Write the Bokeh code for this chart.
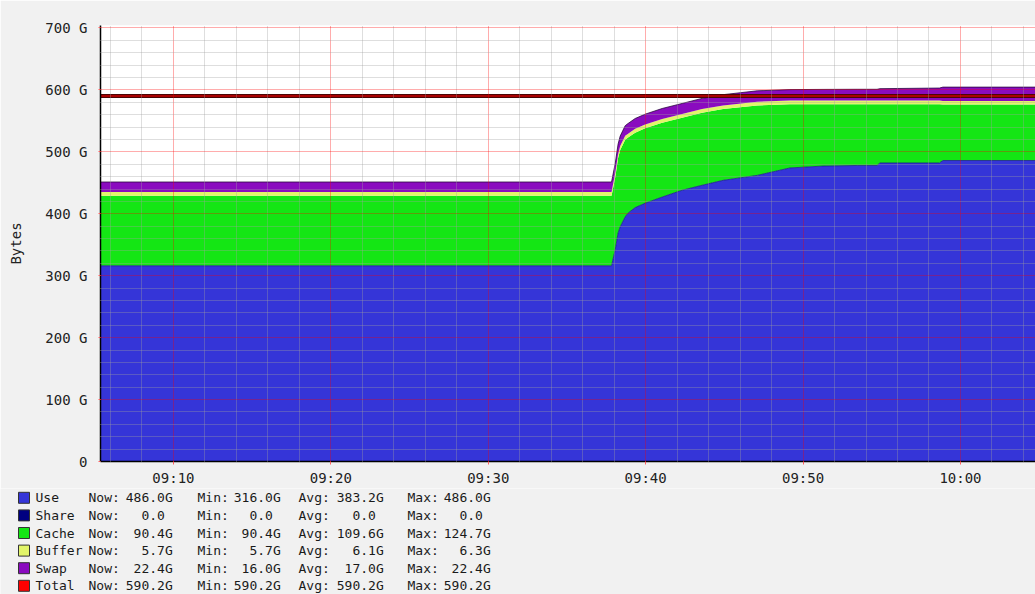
import pandas as pd
from bokeh.plotting import figure
from bokeh.models import (ColumnDataSource, Range1d, FixedTicker,
                          DatetimeTickFormatter)
from bokeh.layouts import column
from bokeh.transform import stack
from bokeh.core.properties import value
from bokeh.embed import file_html
from bokeh.resources import INLINE

# ---------------- data (GB) ----------------
DAY = "2024-01-01 "
times = ["09:05:22", "09:37:50", "09:38:04", "09:38:15", "09:38:23", "09:38:42",
         "09:38:53", "09:39:20", "09:39:58", "09:41:03", "09:42:19", "09:43:35",
         "09:44:55", "09:47:05", "09:49:10", "09:51:16", "09:53:26", "09:54:42",
         "09:54:53", "09:58:40", "09:58:53", "10:04:46"]
use    = [316, 316, 342, 369, 379, 395, 401, 410, 417, 427, 438, 446,
          454, 462, 474, 477, 478, 478, 482, 482, 486, 486]
share  = [0, 0, 0, 0, 0, 0, 0, 0, 0, 0, 0, 0,
          0, 0, 0, 0, 0, 0, 0, 0, 0, 0]
cache  = [113, 113, 117, 121, 124, 124.7, 122, 121, 121, 120, 117, 117,
          115, 113, 103, 100, 99, 99, 95, 95, 90.4, 90.4]
buffer = [6.3, 6.3, 6.3, 6.3, 6.3, 6.3, 6.3, 6.3, 6.2, 6.2, 6.1, 6.1,
          6.0, 6.0, 5.9, 5.9, 5.8, 5.8, 5.8, 5.7, 5.7, 5.7]
swap   = [16.0, 16.0, 16.0, 16.2, 16.2, 16.2, 16.5, 16.5, 16.6, 16.8, 17.0, 17.2,
          17.3, 17.5, 17.6, 17.9, 18.2, 18.2, 19.2, 20.3, 22.4, 22.4]
total  = [590.2, 590.2, 590.2, 590.2, 590.2, 590.2, 590.2, 590.2, 590.2, 590.2, 590.2, 590.2,
          590.2, 590.2, 590.2, 590.2, 590.2, 590.2, 590.2, 590.2, 590.2, 590.2]

series_names  = ["Use", "Share", "Cache", "Buffer", "Swap", "Total"]
series_colors = ["#3535d8", "#000080", "#14e614", "#e2f56a", "#8a0bbf", "#ff0000"]
stat_now = ["486.0G", "0.0", "90.4G", "5.7G", "22.4G", "590.2G"]
stat_min = ["316.0G", "0.0", "90.4G", "5.7G", "16.0G", "590.2G"]
stat_avg = ["383.2G", "0.0", "109.6G", "6.1G", "17.0G", "590.2G"]
stat_max = ["486.0G", "0.0", "124.7G", "6.3G", "22.4G", "590.2G"]

x_tick_labels = ["09:10", "09:20", "09:30", "09:40", "09:50", "10:00"]
y_ticks = [0, 100, 200, 300, 400, 500, 600, 700]
y_tick_labels = ["0", "100 G", "200 G", "300 G", "400 G", "500 G", "600 G", "700 G"]
x_view = ["09:05:22", "10:04:46"]

# ---------------- styling ----------------
BG = "#f1f1f1"
FONT = "DejaVu Sans Mono"
W = 1035


def ms(s):
    return pd.Timestamp(DAY + s).value / 1e6


t = pd.to_datetime([DAY + s for s in times]).values
src = ColumnDataSource(dict(t=t, use=use, share=share, cache=cache,
                            buffer=buffer, swap=swap, total=total))

p = figure(width=W, height=488, x_axis_type="datetime",
           x_range=Range1d(ms(x_view[0]), ms(x_view[1])),
           y_range=Range1d(0, 704),
           output_backend="svg", toolbar_location=None,
           min_border_left=100, min_border_right=0,
           min_border_top=25, min_border_bottom=25)
p.frame_align = False
p.background_fill_color = "white"
p.border_fill_color = BG
p.outline_line_color = None

stackers = ["use", "share", "cache", "buffer", "swap"]
p.varea_stack(stackers, x="t", color=series_colors[:5], source=src)
p.line("t", stack("use"), source=src, line_color="#1c1c8c", line_width=1, line_alpha=0.8)
p.line("t", stack(*stackers), source=src, line_color="#2a0840", line_width=1, line_alpha=0.8)
p.line("t", "total", source=src, line_color="#4d0505", line_width=4)
p.line("t", "total", source=src, line_color="#c80000", line_width=1.5)

# ticks
xt = [ms(s) for s in x_tick_labels]
xminor = [pd.Timestamp(v).value / 1e6
          for v in pd.date_range(DAY + "09:06", DAY + "10:04", freq="2min")
          if v.minute % 10 != 0]
p.xaxis.ticker = FixedTicker(ticks=xt, minor_ticks=xminor)
p.xaxis.formatter = DatetimeTickFormatter(minutes="%H:%M", hourmin="%H:%M",
                                          hours="%H:%M", minsec="%H:%M",
                                          strip_leading_zeros=False)
yminor = [v for v in range(20, 701, 20) if v % 100 != 0]
p.yaxis.ticker = FixedTicker(ticks=y_ticks, minor_ticks=yminor)
p.yaxis.major_label_overrides = {k: lab for k, lab in zip(y_ticks, y_tick_labels)}

for ax in (p.xaxis, p.yaxis):
    ax.major_label_text_font = FONT
    ax.major_label_text_font_size = "14px"
    ax.major_label_text_color = "#222222"
    ax.axis_line_color = "black"
    ax.axis_line_width = 1.5
    ax.major_tick_in = 0
    ax.major_tick_line_color = "#ff6060"
    ax.minor_tick_line_color = None
p.xaxis.major_tick_out = 3
p.xaxis.major_label_standoff = 4
p.yaxis.major_tick_out = 2
p.yaxis.major_label_standoff = 9
p.yaxis.axis_label = "Bytes"
p.yaxis.axis_label_text_font = FONT
p.yaxis.axis_label_text_font_size = "14px"
p.yaxis.axis_label_text_font_style = "normal"
p.yaxis.axis_label_text_color = "#222222"
p.yaxis.axis_label_standoff = 18

for g in (p.xgrid, p.ygrid):
    g.level = "overlay"
    g.grid_line_color = "#ff0000"
    g.grid_line_alpha = 0.65
    g.grid_line_dash = "1 1"
    g.minor_grid_line_color = "#a0a0a0"
    g.minor_grid_line_alpha = 0.7
    g.minor_grid_line_dash = "1 1"

# ---------------- legend table ----------------
LH = 106
p2 = figure(width=W, height=LH, x_range=Range1d(0, W), y_range=Range1d(LH, 0),
            x_axis_type=None, y_axis_type=None, output_backend="svg",
            toolbar_location=None, min_border=0)
p2.frame_align = False
p2.outline_line_color = None
p2.background_fill_color = BG
p2.border_fill_color = BG
p2.grid.visible = False

row_y = [9.3 + 17.6 * i for i in range(len(series_names))]
p2.scatter(x=[23.5] * len(row_y), y=row_y, marker="square", size=11,
           fill_color=series_colors, line_color="#333333", line_width=1)

txt = dict(text_font=value(FONT), text_font_size=value("13px"),
           text_color="#1a1a1a", text_baseline="middle")
p2.text(x=[35] * len(row_y), y=row_y, text=series_names, text_align="left", **txt)

cols = [("Now:", 88, 164.4, stat_now), ("Min:", 197, 272.4, stat_min),
        ("Avg:", 298, 375.4, stat_avg), ("Max:", 407, 482.4, stat_max)]
for lab, xl, xr, vals in cols:
    p2.text(x=[xl] * len(row_y), y=row_y, text=[lab] * len(row_y), text_align="left", **txt)
    nums = [v[:-1] if v.endswith("G") else v for v in vals]
    units = ["G" if v.endswith("G") else "" for v in vals]
    p2.text(x=[xr] * len(row_y), y=row_y, text=nums, text_align="right", **txt)
    p2.text(x=[xr] * len(row_y), y=row_y, text=units, text_align="left", **txt)

layout = column(p, p2, spacing=0)
open("out.html", "w").write(file_html(layout, INLINE))
